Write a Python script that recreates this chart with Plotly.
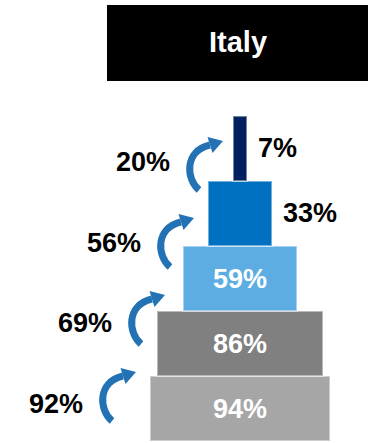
import plotly.graph_objects as go

# ---- data -------------------------------------------------------------
country = "Italy"
stage_share = [94, 86, 59, 33, 7]          # share of population at each stage (bottom -> top)
conversion = [92, 69, 56, 20]              # step-to-step conversion rates
stage_labels = [f"{v}%" for v in stage_share]
conversion_labels = [f"{v}%" for v in conversion]

# ---- style ------------------------------------------------------------
bar_colors = ["#A6A6A6", "#808080", "#5DADE2", "#0070C0", "#002060"]
arrow_color = "#2272B4"
FONT = "Liberation Sans, Arial, sans-serif"
W, H = 369, 443

# pixel geometry of the canvas -> axis units
PX_PER_PCT = 1.925      # horizontal pixels per percentage point
CX = 240                # pixel column of the stack centre
ROW_PX = 65             # pixel height of one stage
Y0 = 408                # pixel row of the bottom stage centre


def to_x(px):
    return (px - CX) / PX_PER_PCT


def to_y(py):
    return (Y0 - py) / ROW_PX


levels = list(range(len(stage_share)))
inside = [v >= 50 for v in stage_share]

fig = go.Figure()
fig.add_trace(go.Bar(
    orientation="h",
    y=levels,
    x=stage_share,
    base=[-v / 2 for v in stage_share],
    marker=dict(color=bar_colors, line=dict(color="rgba(255,255,255,0.45)", width=2)),
    text=[t if i else "" for t, i in zip(stage_labels, inside)],
    textposition="inside",
    insidetextanchor="middle",
    textfont=dict(family=FONT, size=27, weight="bold", color="white"),
    cliponaxis=False,
    hoverinfo="skip",
))

shapes = []
annotations = []

# labels of the narrow top stages sit just right of their bars
for lvl, (v, lab, i) in enumerate(zip(stage_share, stage_labels, inside)):
    if not i:
        annotations.append(dict(
            x=v / 2, y=lvl, xref="x", yref="y", xshift=9,
            text=lab, showarrow=False, xanchor="left", yanchor="middle",
            font=dict(family=FONT, size=27, weight="bold", color="black"),
        ))

# ---- curved conversion arrows between consecutive stages ---------------
ARROW_START = (104, 396)
ARROW_STEP = (29, -77)
LABEL_START_Y, LABEL_STEP_Y = 404, -80.7
# arc and head geometry, in pixels relative to the arc's leftmost point
ARC_S, ARC_C1, ARC_C2, ARC_E = (8, 25), (-5, 14), (-7, -14), (19, -20)
HEAD_TIP, HEAD_B1, HEAD_B2 = (32, -24), (21.5, -12), (16.5, -28)

for i, lab in enumerate(conversion_labels):
    ax = ARROW_START[0] + ARROW_STEP[0] * i
    ay = ARROW_START[1] + ARROW_STEP[1] * i

    def pt(off):
        return f"{to_x(ax + off[0]):.4f},{to_y(ay + off[1]):.4f}"

    shapes.append(dict(
        type="path", xref="x", yref="y",
        path=f"M {pt(ARC_S)} C {pt(ARC_C1)} {pt(ARC_C2)} {pt(ARC_E)}",
        line=dict(color=arrow_color, width=7),
    ))
    shapes.append(dict(
        type="path", xref="x", yref="y",
        path=f"M {pt(HEAD_TIP)} L {pt(HEAD_B1)} L {pt(HEAD_B2)} Z",
        fillcolor=arrow_color, line=dict(width=0),
    ))
    annotations.append(dict(
        x=to_x(ax - 19), y=to_y(LABEL_START_Y + LABEL_STEP_Y * i), xref="x", yref="y",
        text=lab, showarrow=False, xanchor="right", yanchor="middle",
        font=dict(family=FONT, size=27, weight="bold", color="black"),
    ))

# ---- title box ----------------------------------------------------------
shapes.append(dict(
    type="rect", xref="paper", yref="paper",
    x0=107 / W, x1=368 / W, y0=1 - 81 / H, y1=1 - 5 / H,
    fillcolor="black", line=dict(width=0), layer="below",
))
annotations.append(dict(
    x=(107 + 368) / 2 / W, y=1 - 42 / H, xref="paper", yref="paper",
    text=country, showarrow=False, xanchor="center", yanchor="middle",
    font=dict(family=FONT, size=29, weight="bold", color="white"),
))

fig.update_layout(
    width=W, height=H,
    margin=dict(l=0, r=0, t=0, b=0),
    paper_bgcolor="white", plot_bgcolor="white",
    showlegend=False, bargap=0,
    xaxis=dict(range=[to_x(0), to_x(W)], visible=False, fixedrange=True),
    yaxis=dict(range=[to_y(H), to_y(0)], visible=False, fixedrange=True),
    shapes=shapes, annotations=annotations,
)

fig.write_html("out.html")
